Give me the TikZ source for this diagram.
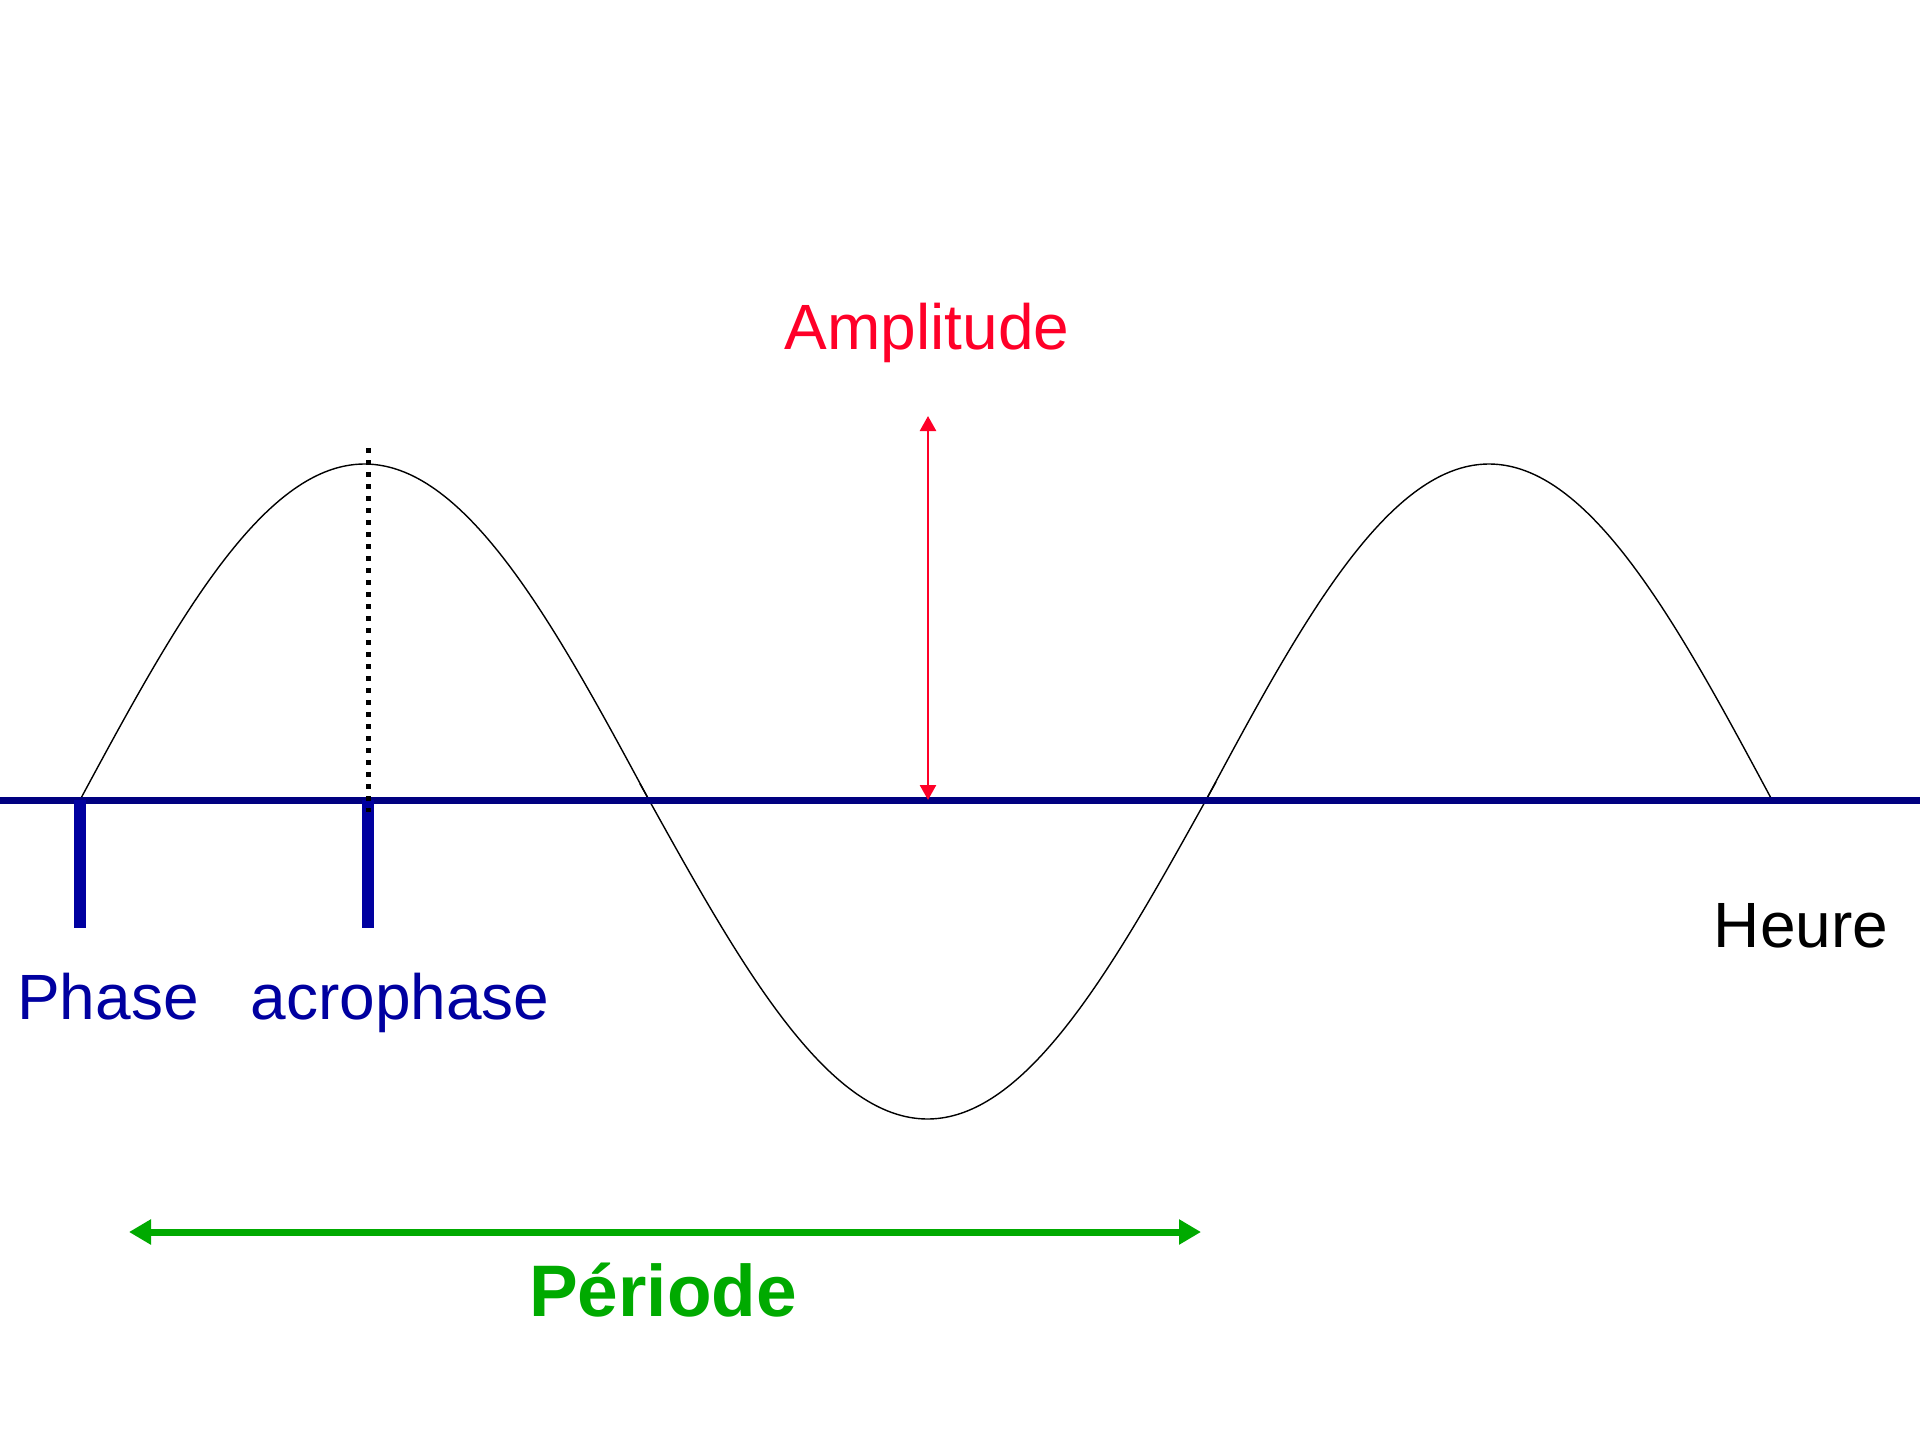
\documentclass[tikz,border=0pt]{standalone}
\usepackage{fontspec}
\setmainfont{Liberation Sans}
\usetikzlibrary{arrows.meta,positioning}
\definecolor{axisnavy}{RGB}{0,0,128}
\definecolor{tickblue}{RGB}{0,0,160}
\definecolor{ampred}{RGB}{255,0,40}
\definecolor{pergreen}{RGB}{0,170,0}
\tikzset{
  time axis/.style={line width=7pt, axisnavy},
  wave/.style={line width=1.4pt, black, samples=150},
  phase tick/.style={line width=12pt, tickblue},
  acro line/.style={line width=5pt, dash pattern=on 5pt off 7pt},
  amp arrow/.style={{Triangle[length=15pt,width=16pt]}-{Triangle[length=15pt,width=16pt]}, line width=2.5pt, ampred},
  period arrow/.style={{Triangle[length=22pt,width=24pt]}-{Triangle[length=22pt,width=24pt]}, line width=7pt, pergreen},
  word/.style={inner sep=0pt, anchor=base, font=\fontsize{64}{72}\selectfont},
}

\begin{document}
\begin{tikzpicture}[x=1pt,y=-1pt]
  \useasboundingbox (0,0) rectangle (1920,1440);

  % Wave
  \draw[wave, domain=80:649]   plot (\x, {800 - 336*sin((\x-80)*0.316344)});
  \draw[wave, domain=640:1216] plot (\x, {800 + 319*sin((\x-649)*0.323160)});
  \draw[wave, domain=1206:1772] plot (\x, {800 - 336*sin((\x-1206)*0.318021)});

  % Time axis
  \coordinate (axis start) at (0,800);
  \coordinate (axis end) at (1920,800);
  \draw[time axis] (axis start) -- (axis end);

  % Phase and acrophase ticks
  \coordinate (phase) at (80,800);
  \coordinate (acro) at (368,800);
  \draw[phase tick] (phase) -- ++(0,128);
  \draw[phase tick] (acro) -- ++(0,128);

  % Dotted line at acrophase
  \coordinate (acro top) at (368,448);
  \coordinate (acro foot) at (368,812);
  \draw[acro line] (acro top) -- (acro foot);

  % Amplitude arrow
  \coordinate (amp top) at (928,416);
  \coordinate (amp base) at (928,800);
  \draw[amp arrow] (amp base) -- (amp top);

  % Period arrow
  \coordinate (period start) at (129,1232);
  \coordinate (period end) at (1201,1232);
  \draw[period arrow] (period start) -- (period end);

  % Labels
  \node[word, ampred] (amplitude) at (927,349) {Amplitude};
  \node[word, tickblue] (phase text) at (108,1019) {Phase};
  \node[word, tickblue] (acro text) at (400,1019) {acrophase};
  \node[word] (hour) at (1801,947) {Heure};
  \node[word, pergreen, font=\fontsize{73}{80}\selectfont\bfseries] (period) at (663,1316) {Période};
\end{tikzpicture}
\end{document}
